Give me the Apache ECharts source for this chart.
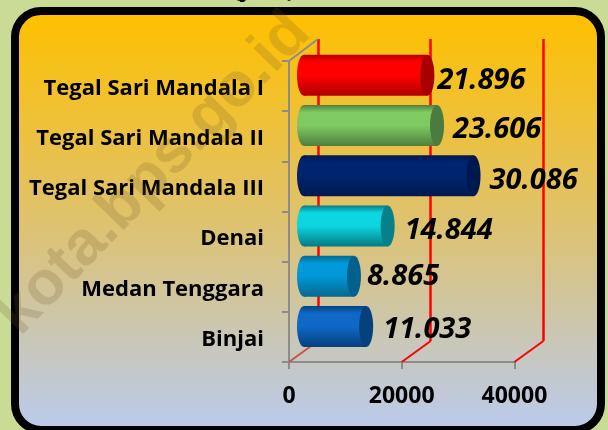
<!DOCTYPE html>
<html><head><meta charset="utf-8">
<style>html,body{margin:0;padding:0;background:#C9DB95}#c{width:608px;height:430px}</style>
<script src="https://cdn.jsdelivr.net/npm/echarts@6/dist/echarts.min.js"></script>
</head><body><div id="c"></div>
<script>
const categories = ['Tegal Sari Mandala I','Tegal Sari Mandala II','Tegal Sari Mandala III','Denai','Medan Tenggara','Binjai'];
const values = [21896,23606,30086,14844,8865,11033];
const axisTicks = [0,20000,40000];
// styling per bar: [edge, middle, cap]
const barColors = [
  ['#B00000','#FF0000','#A80000'],
  ['#4F7F3E','#80CA62','#4B7B3E'],
  ['#001A50','#00246F','#001850'],
  ['#067A84','#0CD6E0','#08808A'],
  ['#05688F','#0098D8','#01618C'],
  ['#06407F','#0F68C6','#06417C']
];
const labelGap = [3,9,9,10,6,10];
const labelRaise = [6,4,5,5,1,3];

const font = '"Open Sans", sans-serif';
const chart = echarts.init(document.getElementById('c'), null, {renderer:'canvas'});
const fmt = v => String(v).replace(/\B(?=(\d{3})+$)/g,'.');

// pixel y of the outer edge of the category band, on a given axis set
function bandEdge(axisIndex, top){
  const q = {xAxisIndex:axisIndex,yAxisIndex:axisIndex};
  const last = categories.length-1;
  const p0 = chart.convertToPixel(q,[0,0])[1], p1 = chart.convertToPixel(q,[0,1])[1];
  const half = (p1-p0)/2;
  return top ? p0-half : chart.convertToPixel(q,[0,last])[1]+half;
}

chart.setOption({
  animation:false,
  backgroundColor:'#C9DB95',
  graphic:[
    {type:'rect',z:0,shape:{x:15,y:11,width:586,height:419,r:26},
     style:{stroke:'#000',lineWidth:8,fill:{type:'linear',x:0,y:0,x2:0,y2:1,colorStops:[
       {offset:0.02,color:'#FFC000'},{offset:0.5,color:'#DEC26E'},{offset:0.97,color:'#BBCAE8'}]}}},
    {type:'text',z:1,x:154,y:174,rotation:46*Math.PI/180,
     style:{text:'kota.bps.go.id',x:0,y:0,align:'center',verticalAlign:'middle',
       font:'bold 62px "Liberation Sans", sans-serif',fill:'rgba(110,85,40,0.2)'}},
    {type:'text',z:1,x:264,y:2,style:{text:'(jiwa)',x:0,y:0,align:'center',verticalAlign:'bottom',
       font:'bold 22px '+font,fill:'#000'}}
  ],
  grid:[
    {left:289,width:225.4,top:61,height:301},   // front axes
    {left:304,width:225.4,top:50,height:301.5}, // bars
    {left:318,width:225.4,top:39,height:302},   // back wall
    {left:289,width:225.4,top:63.5,height:301}  // category labels
  ],
  xAxis:[
    {gridIndex:0,type:'value',min:0,max:40000,interval:20000,
     axisLine:{show:true,lineStyle:{color:'#8C8C8C',width:2}},
     axisTick:{show:true,length:7,lineStyle:{color:'#8C8C8C',width:2}},
     axisLabel:{margin:23,color:'#000',fontWeight:'bold',fontSize:23,fontFamily:font,formatter:v=>String(v)},
     splitLine:{show:false}},
    {gridIndex:1,type:'value',min:0,max:40000,show:false},
    {gridIndex:2,type:'value',min:0,max:40000,interval:20000,
     axisLine:{show:false},axisTick:{show:false},axisLabel:{show:false},
     splitLine:{show:true,lineStyle:{color:'#FF0000',width:2.5}}},
    {gridIndex:3,type:'value',min:0,max:40000,show:false}
  ],
  yAxis:[
    {gridIndex:0,type:'category',inverse:true,data:categories,
     axisLine:{show:true,lineStyle:{color:'#8C8C8C',width:2}},
     axisTick:{show:true,length:7,lineStyle:{color:'#8C8C8C',width:2}},
     axisLabel:{show:false}},
    {gridIndex:1,type:'category',inverse:true,data:categories,show:false},
    {gridIndex:2,type:'category',inverse:true,data:categories,show:false},
    {gridIndex:3,type:'category',inverse:true,data:categories,
     axisLine:{show:false},axisTick:{show:false},
     axisLabel:{margin:25,color:'#000',fontWeight:'bold',fontSize:22,fontFamily:font}}
  ],
  series:[
    { // floor diagonals joining the front axis ticks to the back wall
      type:'custom',z:2,coordinateSystem:'none',silent:true,
      data:axisTicks,
      renderItem(params,api){
        const v = api.value(0);
        const ax = chart.convertToPixel({xAxisIndex:0,yAxisIndex:0},[v,0])[0];
        const bx = chart.convertToPixel({xAxisIndex:2,yAxisIndex:2},[v,0])[0];
        return {type:'line',shape:{x1:ax,y1:bandEdge(0,false),x2:bx,y2:bandEdge(2,false)},
          style:{stroke:v===0?'#D05050':'#FF0000',lineWidth:2}};
      }
    },
    { // top edge of the left wall
      type:'custom',z:2,coordinateSystem:'none',silent:true,
      data:[0],
      renderItem(){
        const ax = chart.convertToPixel({xAxisIndex:0,yAxisIndex:0},[0,0])[0];
        const bx = chart.convertToPixel({xAxisIndex:2,yAxisIndex:2},[0,0])[0];
        return {type:'line',shape:{x1:ax,y1:bandEdge(0,true),x2:bx,y2:bandEdge(2,true)},
          style:{stroke:'#8C8C8C',lineWidth:2}};
      }
    },
    {
      type:'custom',z:5,xAxisIndex:1,yAxisIndex:1,silent:true,
      data:values.map((v,i)=>[v,i]),
      encode:{x:0,y:1},
      renderItem(params,api){
        const i = params.dataIndex;
        const s = api.coord([0,api.value(1)]);
        const e = api.coord([api.value(0),api.value(1)]);
        const h = 41, rx = 7, ry = h/2;
        const c = barColors[i];
        const gradBody = {type:'linear',x:0,y:0,x2:0,y2:1,colorStops:[
          {offset:0,color:c[0]},{offset:0.18,color:c[1]},{offset:0.5,color:c[1]},{offset:1,color:c[0]}]};
        return {type:'group',children:[
          {type:'ellipse',shape:{cx:s[0],cy:s[1],rx:rx,ry:ry},style:{fill:gradBody}},
          {type:'rect',shape:{x:s[0],y:s[1]-ry,width:e[0]-s[0],height:h},style:{fill:gradBody}},
          {type:'ellipse',shape:{cx:e[0],cy:e[1],rx:rx,ry:ry},style:{fill:c[2]}},
          {type:'text',x:e[0]+rx+labelGap[i],y:e[1]+labelRaise[i],
           style:{text:fmt(api.value(0)),align:'left',verticalAlign:'middle',
             font:'italic bold 29px '+font,fill:'#000'}}
        ]};
      }
    }
  ]
});
</script></body></html>
